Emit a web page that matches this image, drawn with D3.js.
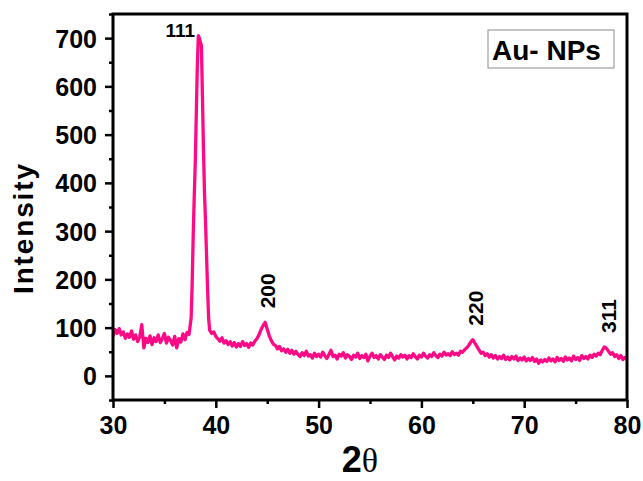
<!DOCTYPE html>
<html>
<head>
<meta charset="utf-8">
<script src="https://cdn.jsdelivr.net/npm/d3@7"></script>
<style>
  html, body { margin: 0; padding: 0; background: #fff; }
  svg { display: block; }
</style>
</head>
<body>
<svg id="chart" width="643" height="481"></svg>
<script>
// ---- data ----
const twoTheta = [
  30.0,30.2,30.4,30.6,30.8,31.0,31.2,31.4,31.6,31.8,32.0,32.2,32.4,32.6,32.8,33.0,33.2,33.4,33.6,33.8,
  34.0,34.2,34.4,34.6,34.8,35.0,35.2,35.4,35.6,35.8,36.0,36.2,36.4,36.6,36.8,37.0,37.2,37.4,37.6,
  37.7,37.8,37.9,38.0,38.1,38.2,38.3,38.4,38.5,38.6,38.7,38.8,38.9,39.0,39.1,39.2,39.3,
  39.4,39.6,39.8,40.0,40.2,40.4,40.6,40.8,41.0,41.2,41.4,41.6,41.8,42.0,42.2,42.4,42.6,42.8,43.0,43.2,
  43.4,43.6,43.8,44.0,44.2,44.4,44.6,44.8,45.0,45.2,45.4,45.6,45.8,46.0,46.2,46.4,46.6,46.8,47.0,47.2,
  47.4,47.6,47.8,48.0,
  48.2,48.4,48.6,48.8,49.0,49.2,49.4,49.6,49.8,50.0,50.2,50.4,50.6,50.8,51.0,51.2,51.4,51.6,51.8,52.0,
  52.2,52.4,52.6,52.8,53.0,53.2,53.4,53.6,53.8,54.0,54.2,54.4,54.6,54.8,55.0,55.2,55.4,55.6,55.8,56.0,
  56.2,56.4,56.6,56.8,57.0,57.2,57.4,57.6,57.8,58.0,58.2,58.4,58.6,58.8,59.0,59.2,59.4,59.6,59.8,60.0,
  60.2,60.4,60.6,60.8,61.0,61.2,61.4,61.6,61.8,62.0,62.2,62.4,62.6,62.8,63.0,63.2,63.4,63.6,63.8,64.0,
  64.2,64.4,64.6,64.8,65.0,65.2,65.4,65.6,65.8,66.0,66.2,66.4,66.6,66.8,67.0,67.2,67.4,67.6,67.8,68.0,
  68.2,68.4,68.6,68.8,69.0,69.2,69.4,69.6,69.8,70.0,70.2,70.4,70.6,70.8,71.0,71.2,71.4,71.6,71.8,72.0,
  72.2,72.4,72.6,72.8,73.0,73.2,73.4,73.6,73.8,74.0,74.2,74.4,74.6,74.8,75.0,75.2,75.4,75.6,75.8,76.0,
  76.2,76.4,76.6,76.8,77.0,77.2,77.4,77.6,77.8,78.0,78.2,78.4,78.6,78.8,79.0,79.2,79.4,79.6,79.8,80.0
];
const intensity = [
  82,96,88,98,85,91,78,87,80,93,76,85,71,81,106,58,78,69,83,65,
  79,71,85,69,77,88,68,80,73,64,82,58,77,70,87,75,90,86,120,
  190,290,370,440,540,640,705,700,692,685,580,470,380,320,250,180,120,
  95,88,91,82,77,72,79,68,73,65,71,62,69,60,67,61,71,63,67,59,
  68,64,72,77,85,96,104,111,97,83,73,66,63,56,61,52,56,49,55,47,
  53,45,51,44,
  40,48,42,51,41,44,37,47,40,45,39,49,42,36,44,53,40,43,35,45,
  41,48,37,44,40,34,43,39,47,36,42,38,45,31,41,47,38,42,35,44,
  39,34,43,38,47,40,33,41,37,44,39,43,35,42,38,46,40,35,43,39,
  47,41,37,44,40,48,42,38,45,41,49,43,46,42,50,44,47,43,51,49,
  54,58,63,70,75,68,61,54,47,49,42,46,39,44,37,42,35,40,36,43,
  34,39,33,40,35,41,32,37,33,39,31,36,32,38,30,35,26,33,29,34,
  30,37,31,35,29,38,32,36,30,39,33,37,31,41,34,38,32,42,36,40,
  35,43,38,45,41,47,44,53,60,57,51,45,48,40,44,36,42,34,38,34
];
const peakLabels = ["111", "200", "220", "311"];
const peakPositions = [38.3, 44.8, 65.0, 78.0];
const peakHeights = [705, 111, 75, 60];
const xTicks = [30, 40, 50, 60, 70, 80];
const yTicks = [0, 100, 200, 300, 400, 500, 600, 700];
const legendText = "Au- NPs";
const xTitle = "2";
const xTitleSymbol = "θ";
const yTitle = "Intensity";

// ---- layout ----
const svg = d3.select("#chart");
const L = 113, R = 627, T = 14, B = 400;
const x = d3.scaleLinear().domain([30, 80]).range([L, R]);
const y = d3.scaleLinear().domain([-50, 750]).range([B, T]);
const font = "'Liberation Sans', Arial, Helvetica, sans-serif";
const pink = "#ff0a86";

svg.append("defs").append("clipPath").attr("id", "clip")
  .append("rect").attr("x", L).attr("y", T).attr("width", R - L).attr("height", B - T);

// data line
const pts = twoTheta.map((t, i) => [t, intensity[i]]);
svg.append("path")
  .datum(pts)
  .attr("clip-path", "url(#clip)")
  .attr("fill", "none")
  .attr("stroke", pink)
  .attr("stroke-width", 3.3)
  .attr("stroke-linejoin", "round")
  .attr("d", d3.line().x(d => x(d[0])).y(d => y(d[1])));

// minor ticks
const xMinor = d3.axisBottom(x).tickValues(d3.range(35, 80, 10)).tickSize(4).tickFormat("");
const yMinor = d3.axisLeft(y).tickValues(d3.range(-50, 751, 100)).tickSize(4).tickFormat("");
svg.append("g").attr("transform", `translate(0,${B})`).call(xMinor)
  .call(g => g.select(".domain").remove())
  .call(g => g.selectAll("line").attr("stroke", "#000").attr("stroke-width", 2.5));
svg.append("g").attr("transform", `translate(${L},0)`).call(yMinor)
  .call(g => g.select(".domain").remove())
  .call(g => g.selectAll("line").attr("stroke", "#000").attr("stroke-width", 2.5));

// major axes
const xAxis = d3.axisBottom(x).tickValues(xTicks).tickSize(8).tickPadding(6).tickFormat(d3.format("d"));
const yAxis = d3.axisLeft(y).tickValues(yTicks).tickSize(8).tickPadding(6).tickFormat(d3.format("d"));
svg.append("g").attr("transform", `translate(0,${B})`).call(xAxis)
  .call(g => g.select(".domain").remove())
  .call(g => g.selectAll("line").attr("stroke", "#000").attr("stroke-width", 2.5))
  .call(g => g.selectAll("text").attr("font-family", font).attr("font-weight", "bold")
    .attr("font-size", 25).attr("fill", "#000").attr("dy", "0.72em").attr("y", 16));
svg.append("g").attr("transform", `translate(${L},0)`).call(yAxis)
  .call(g => g.select(".domain").remove())
  .call(g => g.selectAll("line").attr("stroke", "#000").attr("stroke-width", 2.5))
  .call(g => g.selectAll("text").attr("font-family", font).attr("font-weight", "bold")
    .attr("font-size", 25).attr("fill", "#000").attr("x", -16).attr("dy", "0.36em"));

// frame
svg.append("rect")
  .attr("x", L).attr("y", T).attr("width", R - L).attr("height", B - T)
  .attr("fill", "none").attr("stroke", "#000").attr("stroke-width", 3);

// peak labels
peakLabels.forEach((lab, i) => {
  if (i === 0) {
    svg.append("text")
      .attr("x", x(peakPositions[i]) - 18).attr("y", y(peakHeights[i]) + 1)
      .attr("text-anchor", "middle")
      .attr("font-family", font).attr("font-weight", "bold").attr("font-size", 19)
      .text(lab);
  } else {
    const px = x(peakPositions[i]) + 10, py = y(peakHeights[i]) - 14;
    svg.append("text")
      .attr("transform", `translate(${px},${py}) rotate(-90)`)
      .attr("text-anchor", "start")
      .attr("font-family", font).attr("font-weight", "bold").attr("font-size", 21)
      .text(lab);
  }
});

// legend box
svg.append("rect").attr("x", 488).attr("y", 30).attr("width", 126).attr("height", 38)
  .attr("fill", "#fff").attr("stroke", "#8c8c8c").attr("stroke-width", 1);
svg.append("text").attr("x", 492).attr("y", 60)
  .attr("font-family", font).attr("font-weight", "bold").attr("font-size", 28)
  .text(legendText);

// axis titles
const xt = svg.append("text").attr("x", 360).attr("y", 472).attr("text-anchor", "middle")
  .attr("font-family", font).attr("font-weight", "bold").attr("font-size", 36);
xt.append("tspan").text(xTitle);
xt.append("tspan").attr("font-family", "'Liberation Serif', 'DejaVu Serif', serif")
  .attr("font-weight", "normal").attr("font-size", 34).text(xTitleSymbol);

svg.append("text")
  .attr("transform", "translate(33,229) rotate(-90)")
  .attr("text-anchor", "middle")
  .attr("font-family", font).attr("font-weight", "bold").attr("font-size", 28)
  .attr("textLength", 130).attr("lengthAdjust", "spacing")
  .text(yTitle);
</script>
</body>
</html>
